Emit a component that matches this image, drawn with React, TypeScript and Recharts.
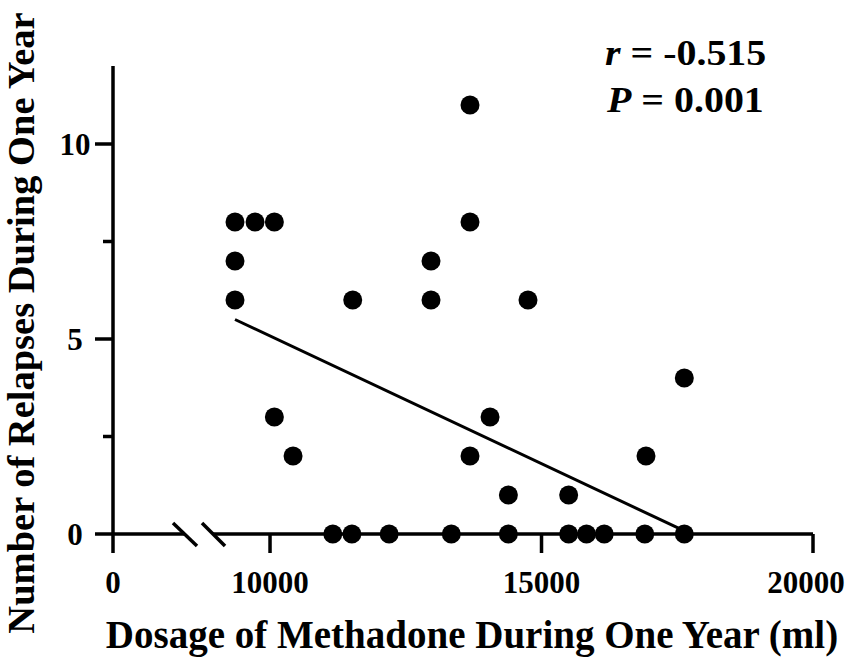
import { ScatterChart, Scatter, XAxis, YAxis, ReferenceLine, Label } from "recharts";

// value placed at the axis origin, shown as "0" (the axis is broken before 10000)
const xAxisOrigin = 7108;
const xAxisEnd = 20000;
const xTicks = [7108, 10000, 15000, 20000];
const xTickLabels = ["0", "10000", "15000", "20000"];

const yTicks = [0, 2.5, 5, 7.5, 10];
const yTickLabels = ["0", "", "5", "", "10"];

// dosage of methadone (ml) and number of relapses
const dosage = [
  9355, 9355, 9355, 9724, 10080, 10080, 10424, 11523, 12965, 12965, 13683, 13683, 13683, 14052, 14751,
  14390, 15500, 16924, 17630, 11156, 11508, 12194, 13339, 14390, 15500, 15829, 16155, 16902, 17630,
];
const relapses = [8, 7, 6, 8, 8, 3, 2, 6, 7, 6, 11, 8, 2, 3, 6, 1, 1, 2, 4, 0, 0, 0, 0, 0, 0, 0, 0, 0, 0];

// fitted regression line end points
const fitX = [9355, 17630];
const fitY = [5.5, 0.08];

// axis break: gap in the axis line and the two slashes
const breakGap = [8434, 8950];
const breakMarks = [
  [8213, 8655],
  [8747, 9171],
];
const breakMarkY = [0.284, -0.309];

const font = '"Liberation Serif", "Times New Roman", serif';
const black = "#000";

function YTick({ x, y, index }: any) {
  const label = yTickLabels[index];
  const len = label ? 18 : 10;
  return (
    <g>
      <line x1={x - len} y1={y} x2={x} y2={y} stroke={black} strokeWidth={3.5} />
      {label && (
        <text x={x - 38} y={y + 11} textAnchor="middle" fontFamily={font} fontWeight="bold" fontSize={31} fill={black}>
          {label}
        </text>
      )}
    </g>
  );
}

function XTick({ x, y, index }: any) {
  const last = index === xTicks.length - 1;
  return (
    <g>
      <line x1={x} y1={y} x2={x} y2={y + 19} stroke={black} strokeWidth={3.5} />
      <text
        x={last ? x - 7 : x}
        y={y + 59}
        textAnchor="middle"
        fontFamily={font}
        fontWeight="bold"
        fontSize={31}
        fill={black}
      >
        {xTickLabels[index]}
      </text>
    </g>
  );
}

export default function App() {
  const points = dosage.map((x, i) => ({ x, y: relapses[i] }));
  const fit = fitX.map((x, i) => ({ x, y: fitY[i] }));

  return (
    <div style={{ position: "absolute", left: 0, top: 0, width: 851, height: 663, background: "#fff" }}>
      <ScatterChart width={851} height={663} margin={{ top: 66, right: 38, bottom: 0, left: 0 }}>
        <XAxis
          type="number"
          dataKey="x"
          domain={[xAxisOrigin, xAxisEnd]}
          ticks={xTicks}
          axisLine={false}
          tickLine={false}
          tickSize={0}
          tickMargin={0}
          tick={<XTick />}
          height={129}
          interval={0}
        >
          <Label
            content={({ viewBox }: any) => (
              <text
                x={viewBox.x + viewBox.width / 2 + 9}
                y={viewBox.y + 114}
                textAnchor="middle"
                fontFamily={font}
                fontWeight="bold"
                fontSize={39}
                fill={black}
              >
                Dosage of Methadone During One Year (ml)
              </text>
            )}
          />
        </XAxis>
        <YAxis
          type="number"
          dataKey="y"
          domain={[0, 12]}
          ticks={yTicks}
          axisLine={{ stroke: black, strokeWidth: 3.5 }}
          tickLine={false}
          tickSize={0}
          tickMargin={0}
          tick={<YTick />}
          width={113}
          interval={0}
        >
          <Label
            content={({ viewBox }: any) => {
              const cx = 34;
              const cy = viewBox.y + viewBox.height / 2 + 23;
              return (
                <text
                  x={cx}
                  y={cy}
                  transform={`rotate(-90, ${cx}, ${cy})`}
                  textAnchor="middle"
                  fontFamily={font}
                  fontWeight="bold"
                  fontSize={38.5}
                  fill={black}
                >
                  Number of Relapses During One Year
                </text>
              );
            }}
          />
        </YAxis>

        {/* broken x axis line */}
        <ReferenceLine
          segment={[{ x: xAxisOrigin, y: 0 }, { x: breakGap[0], y: 0 }]}
          stroke={black}
          strokeWidth={3.5}
          ifOverflow="visible"
        />
        <ReferenceLine
          segment={[{ x: breakGap[1], y: 0 }, { x: xAxisEnd, y: 0 }]}
          stroke={black}
          strokeWidth={3.5}
          ifOverflow="visible"
        />
        {breakMarks.map((m, i) => (
          <ReferenceLine
            key={i}
            segment={[{ x: m[0], y: breakMarkY[0] }, { x: m[1], y: breakMarkY[1] }]}
            stroke={black}
            strokeWidth={3.5}
            ifOverflow="visible"
          />
        ))}

        <Scatter
          data={fit}
          line={{ stroke: black, strokeWidth: 3 }}
          shape={() => <g />}
          isAnimationActive={false}
        />
        <Scatter
          data={points}
          fill={black}
          shape={(p: any) => <circle cx={p.cx} cy={p.cy} r={9.5} fill={black} />}
          isAnimationActive={false}
        />
      </ScatterChart>

      <svg width={851} height={663} style={{ position: "absolute", left: 0, top: 0, pointerEvents: "none" }}>
        <text transform="translate(605,65) scale(1.14,1)" fontFamily={font} fontWeight="bold" fontSize={35} fill={black}>
          <tspan fontStyle="italic">r</tspan> = -0.515
        </text>
        <text transform="translate(607,112) scale(1.14,1)" fontFamily={font} fontWeight="bold" fontSize={35} fill={black}>
          <tspan fontStyle="italic">P</tspan> = 0.001
        </text>
      </svg>
    </div>
  );
}
